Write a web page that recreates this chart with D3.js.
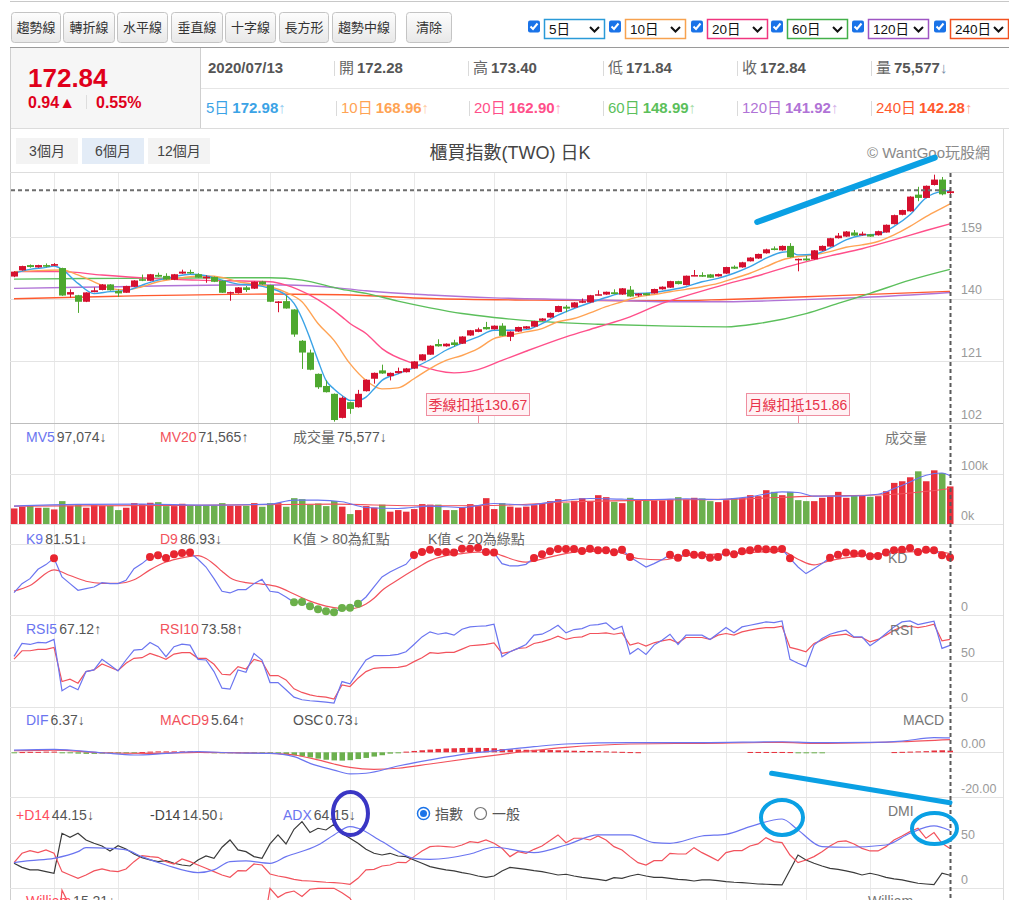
<!DOCTYPE html>
<html>
<head>
<meta charset="utf-8">
<script src="https://cdn.jsdelivr.net/npm/d3@7"></script>
<style>
  body { margin: 0; background: #fff; }
  svg text { font-family: "Liberation Sans", Arial, "Noto Sans CJK TC", sans-serif; }
</style>
</head>
<body>
<div id="chart"></div>
<script>
// ---- daily candles (index 0 .. 117, last = 2020/07/13) ----
const opens = [146.8,148.7,150.3,149.6,150.3,150.1,149.4,141.3,141.1,139.1,142.05,142.7,144.4,142.4,141.85,143.7,146.0,145.5,147.3,147.0,
  145.8,147.7,148.2,147.5,146.25,146.65,145.5,141.75,141.75,143.5,143.1,145.3,144.2,138.9,139.3,136.75,127.2,123.6,117.1,113.4,
  111.0,103.65,108.45,106.9,111.8,115.6,118.15,116.4,117.3,117.6,118.7,121.2,122.95,126.2,125.5,126.7,126.3,128.8,129.9,131.4,
  130.7,131.8,128.4,130.0,130.9,131.5,133.3,134.3,136.0,137.6,137.35,138.8,138.9,141.05,141.3,142.0,141.3,142.8,141.0,141.7,
  141.65,142.9,143.4,145.4,144.2,147.0,147.25,147.45,146.85,147.7,149.8,149.6,151.45,152.3,153.9,155.4,154.8,156.15,151.85,152.3,
  152.05,154.7,155.95,158.5,159.0,160.25,159.4,159.7,159.4,160.25,162.8,165.65,166.7,171.8,170.8,174.75,176.4,172.28];
const highs = [148.4,150.1,150.5,150.4,150.8,150.9,149.5,142.9,141.2,142.0,143.5,144.5,144.5,142.9,144.0,145.7,147.4,147.6,148.0,147.8,
  147.6,148.9,148.9,147.8,147.2,146.8,145.6,142.2,143.6,143.9,145.3,145.5,144.3,139.3,141.0,136.8,127.4,124.5,117.2,115.1,
  111.1,110.2,108.6,112.2,115.4,117.5,119.9,117.5,119.0,118.9,121.0,123.1,125.8,127.65,126.4,127.5,128.6,130.5,131.2,132.96,
  131.9,132.55,130.1,131.5,131.7,133.3,134.1,135.8,137.9,138.1,139.0,140.1,141.2,142.6,142.2,142.9,143.3,143.9,141.7,141.8,
  143.1,143.8,145.5,145.5,147.1,148.8,148.1,147.6,147.7,149.8,150.2,151.3,152.7,153.8,155.3,156.0,156.3,157.0,152.3,153.1,
  154.9,156.3,158.6,160.1,160.7,161.0,160.5,159.8,160.8,162.7,165.7,167.2,171.3,174.2,174.6,177.9,177.2,173.40];
const lows = [146.6,148.6,149.5,149.5,149.6,150.0,140.9,140.4,135.7,139.0,142.0,142.6,142.5,140.6,141.8,143.6,145.4,145.4,146.7,145.8,
  145.7,147.6,147.6,146.4,144.9,145.1,141.8,139.4,141.6,142.1,143.0,144.3,139.0,135.9,137.0,128.4,118.6,118.2,112.5,111.4,
  102.5,103.5,104.9,106.8,111.7,114.1,117.1,115.1,117.2,117.5,118.6,121.1,122.9,125.4,125.4,125.4,126.2,128.7,129.8,130.6,
  130.6,128.6,127.1,129.9,130.8,131.4,133.2,134.2,135.9,135.9,137.3,138.7,138.8,141.0,141.2,141.4,141.2,140.6,140.6,141.0,
  141.6,142.8,143.3,144.4,144.1,146.9,146.7,146.4,146.8,147.6,149.1,149.5,151.4,152.2,153.8,154.8,154.7,152.6,148.4,151.6,
  152.0,154.6,155.9,158.4,158.9,159.2,159.3,158.9,159.3,160.2,162.7,165.5,166.6,169.8,170.7,174.6,171.6,171.84];
const closes = [148.3,150.0,149.7,150.3,149.8,150.6,141.0,142.05,139.1,141.95,142.6,144.4,142.6,141.65,143.9,145.6,145.5,147.5,146.75,145.9,
  147.5,148.3,147.9,146.5,146.75,145.2,141.85,142.05,143.5,142.7,145.2,144.4,139.1,139.2,137.05,129.1,123.6,118.35,113.0,111.5,
  103.0,109.8,106.4,111.0,115.3,117.4,117.2,117.4,117.95,118.75,120.9,123.05,125.7,125.5,126.3,125.9,128.5,130.4,130.7,130.7,
  131.8,128.7,130.0,131.4,131.6,133.2,134.0,135.7,137.8,137.0,138.9,139.3,141.1,141.4,142.15,141.45,143.2,140.7,141.6,141.1,
  143.0,143.7,145.4,144.5,147.05,147.25,146.75,146.45,147.55,149.7,149.2,151.15,152.6,153.7,155.1,154.9,156.15,152.7,152.2,151.75,
  154.8,156.15,158.5,159.3,160.55,159.3,159.9,159.0,160.65,162.6,165.55,167.1,171.2,170.8,174.5,176.4,171.9,172.84];

// 成交量 (thousand lots) and its colour, 1 = red, 0 = green
const volumes = [31.3,34.7,38,32.7,32.7,29.3,46,36.7,38,32.7,38,36.7,36.7,28,32.7,42,40,42.7,44,36,
  36,40.7,36.7,36.7,36.7,37.3,42,36.7,36.7,36.7,42,34.7,42,42,34.7,52,50,38.7,41.3,36,
  46.3,34.9,20,28,36,33,39,24.8,28,24.8,30,40,39,39,28,28,33,40,36,52,
  30,42,35,33,35,38,42,46,50,42,46.7,52,46,58,54,44.7,42,52.7,48,46.7,
  47.3,47.3,49.3,54,49.3,52.7,51.3,46,44,48,52,52,58,56,68,64.7,58,64.7,48,46,
  46,52.7,55.3,64.7,52.7,58,56.7,54.7,56,66,82.7,86,94,106,86,108,102.7,75.577];
const volUp = [1,1,0,1,0,1,0,1,0,1, 1,1,0,0,1,1,1,1,0,0, 1,1,0,0,0,0,0,1,1,0, 1,0,0,1,0,0,0,0,0,0,
  0,1,0,1,1,1,0,1,1,1, 1,1,1,0,1,0,1,1,1,1, 1,0,1,1,1,1,1,1,1,0, 1,1,1,1,1,0,1,0,1,0,
  1,1,1,0,1,1,0,0,1,1, 0,1,1,1,1,0,1,0,0,0, 1,1,1,1,1,0,1,0,1,1, 1,1,1,0,1,1,0,1];
const mv5Points = [[0,36],[8,39.4],[16,40],[24,38],[32,40],[35,48],[38,48],[41,44.7],[44,33.3],[48,31.3],[52,36],[56,33.3],[60,41.3],
  [64,38],[68,46],[72,51.3],[76,50],[80,49.3],[84,50.7],[88,49.3],[92,54.7],[96,64.7],[98,63.4],[100,56],[104,56],[108,60],
  [110,71.4],[112,84.7],[114,98],[116,102.7],[117,97.074]];
const mv20Points = [[0,36],[20,37.3],[40,40],[50,36.7],[60,37.3],[70,44.7],[80,48],[90,50],[100,56],[110,60],[117,71.565]];

// moving averages of the close, sampled from the lines [day, value]
const ma5Points = [[0,147.8],[2,149.0],[4,149.6],[5,150.0],[6,149.0],[8,144.7],[10,141.6],[12,142.2],[14,142.5],[16,144.2],[18,145.7],
  [20,146.75],[22,147.5],[24,147.05],[26,145.7],[28,144.5],[30,144.2],[32,143.2],[34,141.1],[35,138.6],[36,134.0],[37,127.9],
  [38,121.2],[39,115.1],[40,112.5],[41,110.5],[42,109.0],[43,109.0],[44,110.0],[45,112.5],[46,115.1],[48,117.1],[50,119.0],
  [52,121.4],[54,124.3],[56,126.5],[58,128.4],[60,130.4],[62,130.4],[64,130.6],[66,132.45],[68,135.0],[70,137.05],[72,138.8],
  [74,140.4],[76,141.65],[78,141.65],[80,141.95],[82,142.7],[84,143.7],[86,145.2],[88,146.25],[90,147.8],[92,149.8],[94,152.4],
  [96,154.2],[97,154.4],[98,153.4],[100,153.6],[102,155.45],[104,158.0],[106,159.4],[108,159.8],[110,162.1],[112,165.65],
  [114,170.8],[116,172.8],[117,172.98]];
const ma10Points = [[0,148.3],[3,148.6],[6,148.8],[8,147.3],[10,145.2],[12,143.2],[14,142.7],[16,143.7],[18,145.2],[20,146.0],
  [22,146.75],[24,146.95],[26,146.55],[28,145.2],[30,144.5],[32,143.7],[34,141.95],[36,139.1],[38,132.45],[40,127.3],[42,120.2],
  [44,115.1],[46,112.5],[48,112.8],[50,115.6],[52,118.7],[54,121.2],[56,122.7],[58,124.8],[60,127.85],[62,128.9],[64,129.9],
  [66,130.9],[68,133.0],[70,134.0],[72,135.7],[74,137.6],[76,139.1],[78,140.6],[80,141.3],[82,142.15],[84,142.9],[86,143.7],
  [88,144.7],[90,146.25],[92,147.8],[94,149.8],[96,151.85],[98,152.9],[100,153.4],[102,154.4],[104,155.75],[106,156.45],
  [108,157.5],[110,159.5],[112,162.1],[114,165.1],[116,167.7],[117,168.96]];
const ma20Points = [[0,148.3],[6,148.3],[11,147.25],[17,146.25],[23,145.7],[32,145.2],[34,144.2],[37,141.1],[41,134.5],[42,132.45],
  [44,129.4],[46,124.8],[50,120.2],[55,117.4],[58,118.4],[61,121.2],[64,124.0],[69,128.4],[73,131.4],[77,134.5],[81,138.6],
  [85,141.65],[89,144.5],[93,147.05],[97,150.0],[102,153.1],[106,155.3],[110,158.0],[114,160.85],[117,162.90]];
const ma60Points = [[0,146.0],[13,146.25],[32,146.45],[36,145.7],[41,142.9],[44,141.65],[48,139.3],[52,137.25],[56,135.5],[60,134.3],
  [65,133.2],[69,132.65],[73,132.25],[82,131.65],[89,131.45],[93,132.45],[99,135.5],[103,138.6],[107,141.65],[112,145.7],[117,148.99]];
const ma120Points = [[0,143.2],[13,143.7],[27,144.2],[34,144.2],[41,143.2],[44,142.45],[52,141.15],[60,140.3],[69,139.8],[77,139.4],
  [82,139.1],[89,139.1],[97,139.6],[106,140.4],[117,141.92]];
const ma240Points = [[0,140.0],[13,140.8],[32,141.45],[41,141.25],[52,140.1],[65,139.6],[77,139.4],[82,139.4],[89,139.8],[102,140.9],[117,142.28]];

// KD
const kValues = [32,44.6,51.6,64.8,71.4,80.5,54,44.6,35.2,37.6,39.9,46,44.6,44.6,49.3,65.7,72.8,82.2,84.5,80.8,
  85.9,87.8,88.3,79,68,51.6,33.8,31.5,36.2,36.2,44.6,50.7,33.8,32.4,25.8,18.3,18.8,12.7,8.5,5.6,
  4.2,10.3,10.8,16.4,25.8,39.9,54,61,66.7,71.8,85,89.2,92.5,89.2,89.2,88.3,93.9,93.9,95.3,89.2,
  88.3,72.8,69.5,69.5,71.8,80.8,85.9,90.1,93.4,93.4,93.4,90.6,93.9,91.5,91.5,88.7,92.5,82.2,75.1,68,
  72.8,78.4,85.4,81.2,87.8,85.4,84.5,81.2,82.2,88.3,85.9,90.1,91.5,93.9,93,92.5,93.4,80.3,68,58.7,
  65.7,72.8,81.2,85.4,88.3,86.9,86.9,83.1,83.6,88.3,91.5,92.5,94.8,89.2,92.5,91.5,84.5,81.51];
const dPoints = [[0,34],[2,42],[5,64],[7,56],[9,48],[11,45],[13,45],[15,50],[17,64],[19,75],[21,81],[23,84],[24,80],[25,72],
  [26,62],[27,53],[29,46],[31,44],[33,40],[35,30],[37,20],[39,13],[41,9.5],[42,9],[43,11],[44,16],[45,24],[46,35],[48,50],
  [50,64],[52,77],[54,84],[56,87],[58,89],[60,88],[61,84],[64,75],[67,82],[71,90],[75,90],[78,80],[81,78],[84,84],[90,87],
  [96,90],[98,79],[100,71],[102,77],[107,85],[111,89],[115,90],[117,86.93]];

// RSI
const rsi5 = [55,69.2,68.1,70.3,69.9,73.6,17.4,22.8,18.5,38.4,40.2,51.8,45.7,39.1,51.1,62,62.7,70.3,65.6,54.7,
  65.6,68.5,67.4,51.8,51.1,38.4,20.3,19.2,40.2,37.7,58.3,51.1,26.4,26.4,18.5,10.5,7.6,6.5,5.8,5.1,
  4,27.5,25,38.4,51.1,55.8,55.8,56.2,57.2,60.1,68.1,76.4,81.9,79.3,80.8,78.3,84.8,87.3,88,88.4,
  90.2,54.7,60.1,63.8,68.1,78.3,79.3,83.7,89.1,80.8,84.4,85.5,89.1,89.9,91.7,84.4,88,57.6,63.8,57.2,
  67.4,72.8,79.3,68.1,78.3,78.3,78.3,73.6,80.1,86.6,80.8,87.3,89.1,90.9,92.8,92,93.8,51.8,47.5,43.8,
  67.4,74.6,79.3,81.9,83.7,76.4,76.4,66.7,72.8,80.1,87.3,92.8,93.8,89.9,91.7,93.5,63.8,67.12];
const rsi10 = [52,61.2,61.2,62.7,62.7,64.9,27.5,30.1,25.7,38.4,40.2,46.7,43.1,39.5,47.5,52.9,53.6,58.3,55.4,51.8,
  57.6,59.1,59.1,52.9,52.9,46.4,35.5,34.8,43.8,41.3,51.8,49.3,34.1,34.1,29.3,19.6,15.6,13,11.2,10.5,
  8.3,23.9,22.1,31.2,38.4,42,42.8,42.8,43.1,44.6,49.3,53.6,59.1,58.3,59.4,59.4,63,66.7,67.4,68.1,
  69.9,58.3,60.1,63.8,64.5,69.2,71,73.6,77.2,73.6,75.7,76.4,80.1,80.1,80.8,79.3,80.8,67.4,69.9,66.3,
  69.9,72.1,73.6,69.9,75.7,75.7,75.7,73.6,78.3,80.1,78.3,81.9,83.7,85.5,86.6,86.6,88,64.9,62.7,60.1,
  69.2,72.8,77.2,78.3,79.3,75.7,75.7,71,73.6,78.3,83.7,87.3,88,86.6,88,90.2,72.1,73.58];

// MACD
const difPoints = [[0,1.0],[5,1.3],[11,-0.2],[15,-1.2],[19,-0.5],[23,0.3],[27,-0.2],[32,-0.5],[35,-1.9],[37,-4.9],[40,-7.9],
  [42,-9.6],[44,-9.3],[48,-6.1],[52,-3.4],[57,-0.5],[61,1.0],[65,2.5],[69,3.7],[77,4.3],[86,4.3],[96,4.7],[100,4.3],
  [107,4.4],[111,5.0],[115,6.5],[117,6.37]];
const macdPoints = [[0,0.7],[5,1.0],[11,-0.2],[17,-0.5],[23,0],[32,-0.5],[35,-1.2],[38,-3.4],[40,-5.2],[42,-6.7],[45,-7.6],
  [48,-7.1],[52,-5.2],[57,-2.7],[61,-0.9],[65,0.8],[69,2.2],[77,3.7],[86,4.0],[96,4.4],[100,4.0],[107,4.3],[111,4.7],[117,5.64]];
const oscValues = [-0.2,0.1,0.2,0.2,0.3,0.3,-0.1,-0.4,-0.6,-0.7, -0.7,-0.6,-0.5,-0.5,-0.4,-0.2,0.1,0.3,0.4,0.4,
  0.4,0.4,0.4,0.3,0.1,-0.1,-0.3,-0.4,-0.4,-0.4, -0.3,-0.3,-0.4,-0.6,-0.9,-1.3,-1.8,-2.3,-2.8,-3.3,
  -3.6,-3.7,-3.5,-3.0,-2.5,-1.9,-1.3,-0.6,-0.1,0.3, 0.6,0.9,1.2,1.5,1.7,1.8,1.9,2.0,2.0,1.9,
  1.8,1.4,1.3,1.2,1.1,1.1,1.0,1.0,0.9,0.8, 0.7,0.6,0.6,0.5,0.4,0.3,0.2,0.1,0.05,0,
  0,0,0,0,0,0,0,0,0,0, 0,0,0.15,0.15,0.15,0.15,0.15,0.1,-0.1,-0.2,
  -0.2,-0.1,0,0,0,0,0,0,0,0, 0.1,0.2,0.3,0.4,0.5,0.8,0.9,0.73];

// DMI
const plusDI = [28.5,38.9,41.9,39.6,42.6,38.9,18.5,14.8,11.1,14.8,19.3,21.5,19.3,18.5,21.5,29.6,36.3,35.2,34.4,29.6,
  27,32.6,29.6,25.9,22.2,18.5,14.8,12.2,19.6,19.3,27,25.9,15.9,13.7,12.2,10,8.5,8.1,7.4,6.7,
  6.3,5.6,4.4,11.1,20.4,21.1,24.8,25.9,28.9,28.5,35.2,41.5,46.3,47,46.3,45.6,48.1,51.9,50.7,53.7,
  50,44.4,35.2,40.7,38.9,43.3,47,53,59.3,50.7,55.6,55.6,53.7,58.1,53.7,46.3,42.6,35.2,28.5,25.9,
  30.7,30.7,38.9,38.1,38.1,45.2,39.6,35.2,30.7,39.6,41.9,41.9,47,49.3,56.3,51.9,50.7,37,28.5,31.5,
  35.2,40.7,47,51.9,52.6,49.3,44.4,41.5,41.5,46.3,53.7,58.1,63,66.7,55.6,61.9,50,44.15];
const minusDI = [27.8,23.3,20.4,20.4,18.5,16.7,61.1,56.7,61.1,53.7,50,47,41.5,47.4,43.7,38.1,34.1,31.5,29.6,30.7,
  27.8,25.9,24.8,31.5,35.9,33.3,45.6,53.7,42.6,40.7,35.2,33.3,49.3,59.3,49.3,65.6,74.1,61.9,66.7,64.8,
  71.1,61.1,55.6,50,43.3,38.9,37,38.9,35.9,35.2,31.5,27.8,24.1,22.2,20.4,19.3,17.4,15.9,13.7,12.2,
  13.7,19.3,23.3,22.2,21.1,19.6,18.5,16.7,14.8,15.6,13.7,12.2,11.1,10,8.5,11.9,11.1,13.7,15.6,13.7,
  12.2,12.2,11.1,10,9.3,8.1,9.3,9.3,8.5,7.4,6.7,6.3,5.6,4.8,4.5,4.1,3.7,20.4,37,31.5,
  27.8,24.8,22.2,21.1,19.3,17.4,14.8,16.7,14.8,12.2,10.4,9.3,7.4,5.6,4.8,4.1,16.7,14.5];
const adxPoints = [[0,28.5],[2,30.7],[5,33.3],[8,40.7],[9,45.2],[12,44.4],[14,42.6],[16,35.2],[19,25.9],[23,17.4],[25,20.4],
  [27,29.6],[29,30.4],[32,27.8],[34,35.2],[38,48.1],[40,59.3],[42,68.5],[43,66.7],[46,51.9],[50,33.3],[52,32.2],[57,38.1],
  [60,45.6],[65,39.6],[69,48.1],[73,59.3],[77,59.3],[80,50.7],[82,50],[86,58.1],[89,60],[92,68.5],[96,77],[98,64.8],
  [101,46.3],[104,45.6],[109,48.1],[112,61.1],[115,69.3],[117,64.15]];

// William %R (only its top edge is visible)
const williamValues = [20,10,15,8,12,5,98,80,85,60,55,40,55,65,45,30,32,15,22,35,18,10,14,28,25,40,80,76,60,65,
  40,48,100,90,95,97,91,99,100,100,100,95,89,75,60,45,46,46,40,35,25,15,8,15,12,18,10,6,8,15,
  12,40,30,22,20,12,10,5,3,15,8,7,3,8,5,15,6,45,38,45,28,20,10,22,5,10,18,25,18,5,
  12,5,3,3,2,8,3,50,55,60,35,25,10,8,5,15,12,20,12,5,3,3,2,20,6,8,38,15.21];

const gridDays = [5, 13, 23, 32, 42, 50, 60, 69, 79, 89, 99, 107];
const priceTicks = [102, 121, 140, 159];
const deductions = [{ label: "季線扣抵", day: 58, value: 130.67 }, { label: "月線扣抵", day: 98, value: 151.86 }];

// hand drawn marks on the screenshot, in data units
const trendStrokes = [
  { panel: "price", from: [92.9, 163.45], to: [115.1, 183.1], width: 6 },
  { panel: "macd", from: [94.7, -9.33], to: [117, -22.4], width: 5 }
];
const circles = [
  { day: 42.06, value: 83.1, rx: 17.5, ry: 21.5, color: "#3a36c4" },
  { day: 96.0, value: 78.7, rx: 21, ry: 17.5, color: "#0aa0e4" },
  { day: 115.06, value: 66.4, rx: 22.5, ry: 15.5, color: "#0aa0e4" }
];

// ---------------------------------------------------------------
const RED = "#d5102f", GREEN = "#4ea82f";
const VRED = "#e8303c", VGREEN = "#6cb04e";
const LBLUE = "#6b75f0", LRED = "#f2525c";
const maStyles = [
  { name: "5日", pts: ma5Points, color: "#3ba3e6", box: "#2a9ad8" },
  { name: "10日", pts: ma10Points, color: "#ffa354", box: "#f7a24f" },
  { name: "20日", pts: ma20Points, color: "#ff4f8a", box: "#f0357f" },
  { name: "60日", pts: ma60Points, color: "#5bbf5b", box: "#43b04a" },
  { name: "120日", pts: ma120Points, color: "#b073d6", box: "#9e55c4" },
  { name: "240日", pts: ma240Points, color: "#ff5a2e", box: "#f2501f" }
];

const svg = d3.select("#chart").append("svg")
    .attr("width", 1009)
    .attr("height", 900)
    .style("display", "block");

function richText(x, y, parts, size, anchor) {
    const t = svg.append("text")
        .attr("x", x).attr("y", y)
        .attr("font-size", size || 14)
        .attr("text-anchor", anchor || "start");
    parts.forEach(p => {
        t.append("tspan")
            .attr("fill", p.c)
            .attr("font-weight", p.b ? "bold" : null)
            .attr("dx", p.dx || 0)
            .text(p.t);
    });
    return t;
}
function hline(y, x1, x2, color) {
    svg.append("line").attr("x1", x1).attr("x2", x2).attr("y1", y).attr("y2", y)
        .attr("stroke", color).attr("stroke-width", 1);
}
function vline(x, y1, y2, color) {
    svg.append("line").attr("x1", x).attr("x2", x).attr("y1", y1).attr("y2", y2)
        .attr("stroke", color).attr("stroke-width", 1);
}

// ---- toolbar ----
hline(1.5, 10, 1009, "#c8c8c8");
const defs = svg.append("defs");
const grad = defs.append("linearGradient").attr("id", "btn").attr("x1", 0).attr("x2", 0).attr("y1", 0).attr("y2", 1);
grad.append("stop").attr("offset", "0%").attr("stop-color", "#fdfdfd");
grad.append("stop").attr("offset", "100%").attr("stop-color", "#e8e8e8");

const toolButtons = [["趨勢線", 11, 49], ["轉折線", 63, 51], ["水平線", 117, 50], ["垂直線", 171, 51],
    ["十字線", 225, 50], ["長方形", 279, 49], ["趨勢中線", 332, 63], ["清除", 406, 45]];
toolButtons.forEach(([label, bx, bw]) => {
    svg.append("rect").attr("x", bx + 0.5).attr("y", 12.5).attr("width", bw).attr("height", 30)
        .attr("rx", 3).attr("fill", "url(#btn)").attr("stroke", "#c4c4c4");
    svg.append("text").attr("x", bx + bw / 2 + 0.5).attr("y", 32).attr("text-anchor", "middle")
        .attr("font-size", 13).attr("fill", "#333").text(label);
});

const selX = [544, 625, 707, 787, 868, 950];
maStyles.forEach((m, i) => {
    const sx = selX[i], w = i === 5 ? 58 : 60;
    svg.append("rect").attr("x", sx - 16).attr("y", 20.5).attr("width", 12).attr("height", 12)
        .attr("rx", 2).attr("fill", "#1a73e8");
    svg.append("path").attr("d", `M${sx - 13.5},26.5 L${sx - 11},29 L${sx - 6.5},23.5`)
        .attr("fill", "none").attr("stroke", "#fff").attr("stroke-width", 2);
    svg.append("rect").attr("x", sx + 0.5).attr("y", 19.5).attr("width", w).attr("height", 19)
        .attr("fill", "#fff").attr("stroke", m.box).attr("stroke-width", 1.5);
    svg.append("text").attr("x", sx + 5).attr("y", 34).attr("font-size", 13.5).attr("fill", "#111").text(m.name);
    svg.append("path").attr("d", `M${sx + w - 14},27 L${sx + w - 9.5},31.5 L${sx + w - 5},27`)
        .attr("fill", "none").attr("stroke", "#111").attr("stroke-width", 2);
});

// ---- quote header ----
const last = closes.length - 1;
svg.append("rect").attr("x", 10).attr("y", 48).attr("width", 190).attr("height", 80).attr("fill", "#f6f6f6");
hline(47.5, 10, 1009, "#9a9a9a");
hline(88.5, 200, 1009, "#e6e6e6");
hline(128.5, 10, 1009, "#dcdcdc");
vline(200.5, 48, 128, "#cfcfcf");
vline(10.5, 48, 900, "#cfcfcf");
vline(1003.5, 128, 900, "#dcdcdc");

const change = closes[last] - closes[last - 1];
richText(28, 87, [{ t: closes[last].toFixed(2), c: "#e0001b", b: true }], 26);
richText(28, 108, [{ t: change.toFixed(2) + "▲", c: "#e0001b", b: true }], 16);
vline(86.5, 95, 109, "#dddddd");
richText(96, 108, [{ t: (change / closes[last - 1] * 100).toFixed(2) + "%", c: "#e0001b", b: true }], 16);

const fmtVol = d3.format(",");
richText(208, 73, [{ t: "2020/07/13", c: "#555", b: true }], 15);
const row1 = [["開", opens[last].toFixed(2)], ["高", highs[last].toFixed(2)], ["低", lows[last].toFixed(2)],
    ["收", closes[last].toFixed(2)], ["量", fmtVol(Math.round(volumes[last] * 1000))]];
const colX = [339, 473, 608, 742, 876];
row1.forEach(([k, v], i) => {
    vline(colX[i] - 4.5, 61, 76, "#dadada");
    const parts = [{ t: k, c: "#666" }, { t: v, c: "#555", b: true, dx: 3 }];
    if (i === 4) parts.push({ t: "↓", c: "#7b8fa8" });
    richText(colX[i], 73, parts, 15);
});
const row2X = [206, 341, 474, 608, 742, 876];
maStyles.forEach((m, i) => {
    if (i > 0) vline(row2X[i] - 4.5, 101, 116, "#dadada");
    const lastVal = m.pts[m.pts.length - 1][1];
    const arrow = richText(row2X[i], 113, [{ t: m.name, c: m.color }, { t: lastVal.toFixed(2), c: m.color, b: true, dx: 3 }, { t: "↑", c: m.color }], 15);
    arrow.select("tspan:last-child").attr("opacity", 0.55);
});

// ---- chart header ----
[["3個月", 16, "#f3f3f3"], ["6個月", 82, "#e3ecf7"], ["12個月", 148, "#f3f3f3"]].forEach(([t, bx, fill]) => {
    svg.append("rect").attr("x", bx).attr("y", 138).attr("width", 62).attr("height", 26).attr("fill", fill);
    svg.append("text").attr("x", bx + 31).attr("y", 156).attr("text-anchor", "middle")
        .attr("font-size", 14).attr("fill", "#444").text(t);
});
svg.append("text").attr("x", 510).attr("y", 159).attr("text-anchor", "middle")
    .attr("font-size", 18).attr("fill", "#444").text("櫃買指數(TWO) 日K");
svg.append("text").attr("x", 990).attr("y", 158).attr("text-anchor", "end")
    .attr("font-size", 15).attr("fill", "#8a8a8a").text("© WantGoo玩股網");

// ---- scales ----
const x = d3.scaleLinear().domain([0, last]).range([14, 950]);
const yPrice = d3.scaleLinear().domain([102, 178.5]).range([423.3, 172.7]);
const yVol = d3.scaleLinear().domain([0, 100]).range([524, 474.3]);
const yKD = d3.scaleLinear().domain([0, 100]).range([615.3, 544.3]);
const yRSI = d3.scaleLinear().domain([0, 100]).range([706.7, 615.3]);
const yMACD = d3.scaleLinear().domain([-20, 0]).range([797.3, 752.3]);
const yDMI = d3.scaleLinear().domain([0, 50]).range([888.3, 843.3]);
const yWill = d3.scaleLinear().domain([0, 100]).range([979, 888.3]);

// ---- grid ----
const gridColor = "#e4e4e4";
hline(172.5, 10, 1003, "#dddddd");
gridDays.forEach(d => vline(Math.round(x(d)) + 0.5, 173, 900, "#e9e9e9"));
priceTicks.forEach(v => hline(Math.round(yPrice(v)) + 0.5, 10, 1003, v === 102 ? "#bdbdbd" : gridColor));
[yVol(100), yVol(0), yKD(100), yKD(0), yRSI(50), yRSI(0), yMACD(0), yMACD(-20), yDMI(50), yDMI(0)]
    .forEach(y => hline(Math.round(y) + 0.5, 10, 1003, gridColor));

// right axis labels
const axisLabel = (y, t) => svg.append("text").attr("x", 961).attr("y", y - 4.5)
    .attr("font-size", 12.5).attr("fill", "#9a9a9a").text(t);
priceTicks.forEach(v => axisLabel(yPrice(v), v));
axisLabel(yVol(100), "100k"); axisLabel(yVol(0), "0k");
axisLabel(yKD(0), "0");
axisLabel(yRSI(50), "50"); axisLabel(yRSI(0), "0");
axisLabel(yMACD(0), "0.00"); axisLabel(yMACD(-20), "-20.00");
axisLabel(yDMI(50), "50"); axisLabel(yDMI(0), "0");

// ---- price panel ----
defs.append("clipPath").attr("id", "clipPrice").append("rect")
    .attr("x", 11).attr("y", 173).attr("width", 992).attr("height", 250);
const priceG = svg.append("g").attr("clip-path", "url(#clipPrice)");

const smooth = (ys) => d3.line().x(d => x(d[0])).y(d => ys(d[1])).curve(d3.curveMonotoneX);
const straight = (ys) => d3.line().x((d, i) => x(i)).y(d => ys(d));

maStyles.slice().reverse().forEach(m => {
    priceG.append("path").datum(m.pts).attr("d", smooth(yPrice))
        .attr("fill", "none").attr("stroke", m.color).attr("stroke-width", 1.4);
});

closes.forEach((c, i) => {
    const o = opens[i], col = c >= o ? RED : GREEN;
    const cx = x(i);
    priceG.append("line").attr("x1", cx + 0.5).attr("x2", cx + 0.5)
        .attr("y1", yPrice(highs[i])).attr("y2", yPrice(lows[i])).attr("stroke", col);
    const top = yPrice(Math.max(o, c)), bot = yPrice(Math.min(o, c));
    priceG.append("rect").attr("x", cx - 3).attr("width", 7)
        .attr("y", top).attr("height", Math.max(1.5, bot - top)).attr("fill", col);
});

// last close dashed line
priceG.append("line").attr("x1", 11).attr("x2", x(last))
    .attr("y1", yPrice(closes[last]) - 1).attr("y2", yPrice(closes[last]) - 1)
    .attr("stroke", "#6e6e6e").attr("stroke-width", 2).attr("stroke-dasharray", "4,3");

deductions.forEach(d => {
    const cx = x(d.day);
    vline(cx + 0.5, 415, 423, "#f08a9c");
    svg.append("rect").attr("x", cx - 51.5).attr("y", 393.5).attr("width", 103).attr("height", 22)
        .attr("fill", "#fff1f4").attr("stroke", "#ef8ea0");
    svg.append("text").attr("x", cx).attr("y", 409.5).attr("text-anchor", "middle")
        .attr("font-size", 14).attr("fill", "#e8334a").text(d.label + d.value.toFixed(2));
});

// ---- volume panel ----
volumes.forEach((v, i) => {
    svg.append("rect").attr("x", x(i) - 3).attr("width", 6.5)
        .attr("y", yVol(v)).attr("height", yVol(0) - yVol(v))
        .attr("fill", volUp[i] ? VRED : VGREEN);
});
svg.append("path").datum(mv20Points).attr("d", smooth(yVol)).attr("fill", "none").attr("stroke", LRED).attr("stroke-width", 1.1);
svg.append("path").datum(mv5Points).attr("d", smooth(yVol)).attr("fill", "none").attr("stroke", LBLUE).attr("stroke-width", 1.1);

richText(26, 442, [{ t: "MV5", c: LBLUE }, { t: fmtVol(Math.round(mv5Points[mv5Points.length - 1][1] * 1000)) + "↓", c: "#555", dx: 2 }]);
richText(160, 442, [{ t: "MV20", c: LRED }, { t: fmtVol(Math.round(mv20Points[mv20Points.length - 1][1] * 1000)) + "↑", c: "#555", dx: 2 }]);
richText(293, 442, [{ t: "成交量", c: "#666" }, { t: fmtVol(Math.round(volumes[last] * 1000)) + "↓", c: "#555", dx: 2 }]);
richText(885, 443, [{ t: "成交量", c: "#777" }]);

// ---- KD panel ----
svg.append("path").datum(dPoints).attr("d", smooth(yKD)).attr("fill", "none").attr("stroke", LRED).attr("stroke-width", 1.2);
svg.append("path").datum(kValues).attr("d", straight(yKD)).attr("fill", "none").attr("stroke", LBLUE).attr("stroke-width", 1.2);
kValues.forEach((k, i) => {
    if (k > 80 || k < 20) {
        svg.append("circle").attr("cx", x(i)).attr("cy", yKD(k)).attr("r", 4)
            .attr("fill", k > 80 ? "#e8252f" : "#6bb04a");
    }
});
richText(26, 544, [{ t: "K9", c: LBLUE }, { t: kValues[last].toFixed(2) + "↓", c: "#555", dx: 2 }]);
richText(160, 544, [{ t: "D9", c: LRED }, { t: dPoints[dPoints.length - 1][1].toFixed(2) + "↓", c: "#555", dx: 2 }]);
richText(293, 544, [{ t: "K值 > 80為紅點", c: "#666" }]);
richText(428, 544, [{ t: "K值 < 20為綠點", c: "#666" }]);
richText(888, 563, [{ t: "KD", c: "#777" }]);

// ---- RSI panel ----
svg.append("path").datum(rsi10).attr("d", straight(yRSI)).attr("fill", "none").attr("stroke", LRED).attr("stroke-width", 1.2);
svg.append("path").datum(rsi5).attr("d", straight(yRSI)).attr("fill", "none").attr("stroke", LBLUE).attr("stroke-width", 1.2);
richText(26, 634, [{ t: "RSI5", c: LBLUE }, { t: rsi5[last].toFixed(2) + "↑", c: "#555", dx: 2 }]);
richText(160, 634, [{ t: "RSI10", c: LRED }, { t: rsi10[last].toFixed(2) + "↑", c: "#555", dx: 2 }]);
richText(890, 635, [{ t: "RSI", c: "#777" }]);

// ---- MACD panel ----
oscValues.forEach((v, i) => {
    if (v === 0) return;
    const y0 = yMACD(0), y1 = yMACD(v);
    svg.append("rect").attr("x", x(i) - 2.5).attr("width", 5.5)
        .attr("y", Math.min(y0, y1)).attr("height", Math.max(1, Math.abs(y1 - y0)))
        .attr("fill", v > 0 ? VRED : VGREEN);
});
svg.append("path").datum(macdPoints).attr("d", smooth(yMACD)).attr("fill", "none").attr("stroke", LRED).attr("stroke-width", 1.2);
svg.append("path").datum(difPoints).attr("d", smooth(yMACD)).attr("fill", "none").attr("stroke", LBLUE).attr("stroke-width", 1.2);
richText(26, 725, [{ t: "DIF", c: LBLUE }, { t: difPoints[difPoints.length - 1][1].toFixed(2) + "↓", c: "#555", dx: 2 }]);
richText(160, 725, [{ t: "MACD9", c: LRED }, { t: macdPoints[macdPoints.length - 1][1].toFixed(2) + "↑", c: "#555", dx: 2 }]);
richText(293, 725, [{ t: "OSC", c: "#555" }, { t: oscValues[last].toFixed(2) + "↓", c: "#555", dx: 2 }]);
richText(903, 725, [{ t: "MACD", c: "#777" }]);

// ---- DMI panel ----
svg.append("path").datum(minusDI).attr("d", straight(yDMI)).attr("fill", "none").attr("stroke", "#3a3a3a").attr("stroke-width", 1.2);
svg.append("path").datum(plusDI).attr("d", straight(yDMI)).attr("fill", "none").attr("stroke", LRED).attr("stroke-width", 1.2);
svg.append("path").datum(adxPoints).attr("d", smooth(yDMI)).attr("fill", "none").attr("stroke", LBLUE).attr("stroke-width", 1.2);
richText(16, 820, [{ t: "+D14", c: "#ff4d5e" }, { t: plusDI[last].toFixed(2) + "↓", c: "#555", dx: 2 }]);
richText(150, 820, [{ t: "-D14", c: "#444" }, { t: minusDI[last].toFixed(2) + "↓", c: "#555", dx: 2 }]);
richText(283, 820, [{ t: "ADX", c: LBLUE }, { t: adxPoints[adxPoints.length - 1][1].toFixed(2) + "↓", c: "#555", dx: 2 }]);
svg.append("circle").attr("cx", 423.5).attr("cy", 813.5).attr("r", 6).attr("fill", "#fff").attr("stroke", "#1a73e8").attr("stroke-width", 1.5);
svg.append("circle").attr("cx", 423.5).attr("cy", 813.5).attr("r", 3.5).attr("fill", "#1a73e8");
richText(435, 819, [{ t: "指數", c: "#555" }]);
svg.append("circle").attr("cx", 480.5).attr("cy", 813.5).attr("r", 6).attr("fill", "#fff").attr("stroke", "#777").attr("stroke-width", 1.2);
richText(492, 819, [{ t: "一般", c: "#555" }]);
richText(888, 816, [{ t: "DMI", c: "#777" }]);

// ---- William panel (cut by the screenshot) ----
svg.append("path").datum(williamValues).attr("d", straight(yWill)).attr("fill", "none").attr("stroke", LRED).attr("stroke-width", 1.2);
richText(26, 906, [{ t: "William", c: "#ff4d5e" }, { t: williamValues[last].toFixed(2) + "↓", c: "#555", dx: 2 }]);
richText(868, 906, [{ t: "William", c: "#777" }]);

// current day marker
svg.append("line").attr("x1", x(last) + 0.5).attr("x2", x(last) + 0.5).attr("y1", 173).attr("y2", 900)
    .attr("stroke", "#5a5a5a").attr("stroke-width", 2).attr("stroke-dasharray", "4,3");

// ---- hand drawn annotations ----
const panelScale = { price: yPrice, macd: yMACD };
trendStrokes.forEach(s => {
    const ys = panelScale[s.panel];
    svg.append("line")
        .attr("x1", x(s.from[0])).attr("y1", ys(s.from[1]))
        .attr("x2", x(s.to[0])).attr("y2", ys(s.to[1]))
        .attr("stroke", "#0aa0e4").attr("stroke-width", s.width).attr("stroke-linecap", "round");
});
circles.forEach(c => {
    svg.append("ellipse").attr("cx", x(c.day)).attr("cy", yDMI(c.value))
        .attr("rx", c.rx).attr("ry", c.ry)
        .attr("fill", "none").attr("stroke", c.color).attr("stroke-width", 4);
});
</script>
</body>
</html>
